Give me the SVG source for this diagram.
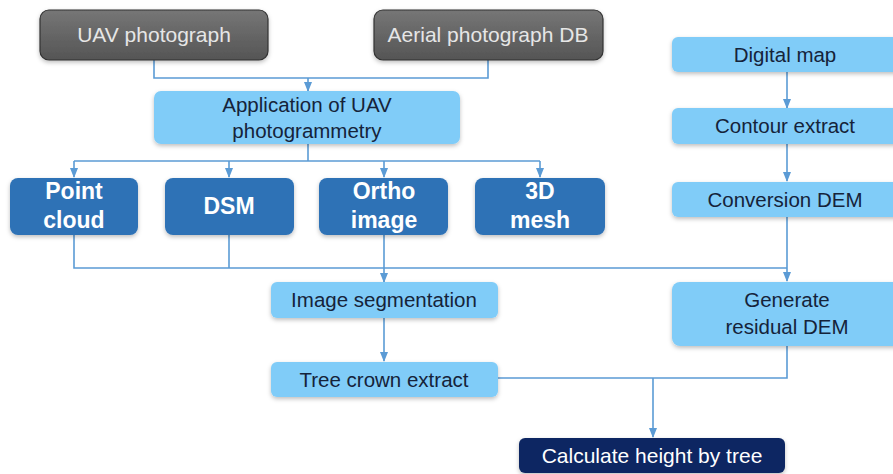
<svg xmlns="http://www.w3.org/2000/svg" width="893" height="474" viewBox="0 0 893 474">
<defs>
<linearGradient id="gray" x1="0" y1="0" x2="0" y2="1"><stop offset="0" stop-color="#767676"/><stop offset="1" stop-color="#555"/></linearGradient>
<filter id="sh" x="-10%" y="-20%" width="120%" height="150%"><feDropShadow dx="0" dy="2" stdDeviation="2" flood-color="#000" flood-opacity="0.25"/></filter>
<marker id="ar" markerWidth="10" markerHeight="8" refX="9" refY="4" orient="auto" markerUnits="userSpaceOnUse"><path d="M0,0 L10,4 L0,8 Z" fill="#5b9bd5"/></marker>
<style>
.ln{fill:none;stroke:#5b9bd5;stroke-width:1.6}
.g{fill:url(#gray);stroke:#333;stroke-width:1.2;filter:url(#sh)}
.lb{fill:#80ccf8;filter:url(#sh)}
.db{fill:#2e72b6;filter:url(#sh)}
.nv{fill:#0b2762;filter:url(#sh)}
text{font-family:"Liberation Sans",Arial,sans-serif;text-anchor:middle}
.tg{fill:#e6e6e6;font-size:21px}
.tl{fill:#15233a;font-size:20.5px}
.tw{fill:#fff;font-size:23px;font-weight:bold}
.tn{fill:#fff;font-size:21px}
</style>
</defs>
<g id="connectors">
<path class="ln" d="M154,60 V78 H488 V60"/>
<path class="ln" d="M308,78 V91" marker-end="url(#ar)"/>
<path class="ln" d="M308,144 V161"/>
<path class="ln" d="M74,161 H540"/>
<path class="ln" d="M74,161 V177" marker-end="url(#ar)"/>
<path class="ln" d="M229,161 V177" marker-end="url(#ar)"/>
<path class="ln" d="M384,161 V177" marker-end="url(#ar)"/>
<path class="ln" d="M540,161 V177" marker-end="url(#ar)"/>
<path class="ln" d="M74,235 V268 H787"/>
<path class="ln" d="M229,235 V268"/>
<path class="ln" d="M384,235 V282" marker-end="url(#ar)"/>
<path class="ln" d="M384,318 V361" marker-end="url(#ar)"/>
<path class="ln" d="M787,72 V108" marker-end="url(#ar)"/>
<path class="ln" d="M787,144 V181" marker-end="url(#ar)"/>
<path class="ln" d="M787,217 V281" marker-end="url(#ar)"/>
<path class="ln" d="M498,378 H787 V346"/>
<path class="ln" d="M653,378 V437" marker-end="url(#ar)"/>
</g>
<g id="uav"><rect class="g" x="40" y="10" width="228" height="50" rx="9"/><text class="tg" x="154" y="42">UAV photograph</text></g>
<g id="aerial"><rect class="g" x="374" y="10" width="229" height="50" rx="9"/><text class="tg" x="488" y="42">Aerial photograph DB</text></g>
<g id="app"><rect class="lb" x="154" y="91" width="306" height="53" rx="7"/><text class="tl" x="307" y="112">Application of UAV</text><text class="tl" x="307" y="138">photogrammetry</text></g>
<g id="pointcloud"><rect class="db" x="10" y="178" width="128" height="57" rx="8"/><text class="tw" x="74" y="199">Point</text><text class="tw" x="74" y="228">cloud</text></g>
<g id="dsm"><rect class="db" x="165" y="178" width="129" height="57" rx="8"/><text class="tw" x="229" y="214">DSM</text></g>
<g id="ortho"><rect class="db" x="319" y="178" width="129" height="57" rx="8"/><text class="tw" x="384" y="199">Ortho</text><text class="tw" x="384" y="228">image</text></g>
<g id="mesh"><rect class="db" x="475" y="178" width="130" height="57" rx="8"/><text class="tw" x="540" y="199">3D</text><text class="tw" x="540" y="228">mesh</text></g>
<g id="digital"><rect class="lb" x="672" y="37" width="230" height="35" rx="6"/><text class="tl" x="785" y="62">Digital map</text></g>
<g id="contour"><rect class="lb" x="672" y="108" width="230" height="36" rx="6"/><text class="tl" x="785" y="133">Contour extract</text></g>
<g id="conversion"><rect class="lb" x="672" y="182" width="230" height="35" rx="6"/><text class="tl" x="785" y="207">Conversion DEM</text></g>
<g id="residual"><rect class="lb" x="672" y="282" width="230" height="64" rx="8"/><text class="tl" x="787" y="307">Generate</text><text class="tl" x="787" y="334">residual DEM</text></g>
<g id="segmentation"><rect class="lb" x="271" y="282" width="227" height="36" rx="6"/><text class="tl" x="384" y="307">Image segmentation</text></g>
<g id="crown"><rect class="lb" x="271" y="362" width="227" height="35" rx="6"/><text class="tl" x="384" y="387">Tree crown extract</text></g>
<g id="calc"><rect class="nv" x="519" y="438" width="266" height="35" rx="6"/><text class="tn" x="652" y="463">Calculate height by tree</text></g>
</svg>
